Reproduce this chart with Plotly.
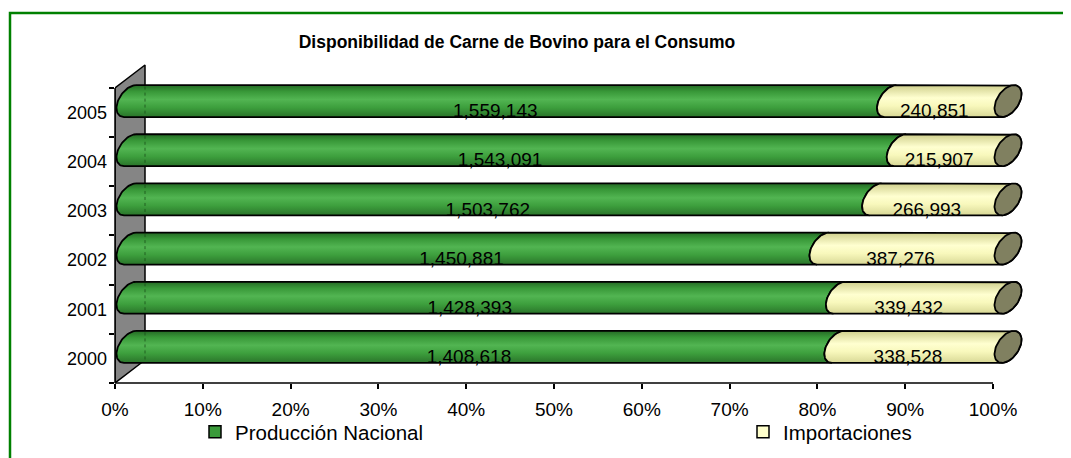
import numpy as np
import plotly.graph_objects as go

# data
years = ["2000", "2001", "2002", "2003", "2004", "2005"]
produccion = [1408618, 1428393, 1450881, 1503762, 1543091, 1559143]
importaciones = [338528, 339432, 387276, 266993, 215907, 240851]
series_names = ["Producción Nacional", "Importaciones"]
x_ticks = [0, 10, 20, 30, 40, 50, 60, 70, 80, 90, 100]
title_text = "Disponibilidad de Carne de Bovino para el Consumo"

# page / plot area in pixels (page is drawn 8px in from the window corner)
W, H = 1071, 458
OFF = 8
L, R, T, B = 115 - OFF, 1030 - OFF, 60 - OFF, 383 - OFF
PX_X = 8.78    # px per percent
PX_Y = 49.17   # px per category
x_range = [0, (R - L) / PX_X]
y_range = [-0.5, -0.5 + (B - T) / PX_Y]

# cylinder look (px)
CX, CY = 15, 11.5
BX, BY, HV = 13.5, 7.1, 14.3
WALL_DX, WALL_DY = 30, 23
th_top = np.arctan2(BY, -HV)
half_h = np.hypot(HV, BY)

FONT = "Liberation Sans, Arial, sans-serif"
green_scale = [[0, "#2a742a"], [0.3, "#3d9f3d"], [0.55, "#52b552"], [0.8, "#389838"], [1, "#256a25"]]
beige_scale = [[0, "#d8d896"], [0.35, "#f8f8bc"], [0.6, "#ffffd0"], [1, "#cfcf8c"]]
cap_color = "#808060"


def ell(p, k, th):
    x = p + (CX + BX * np.sin(th)) / PX_X
    y = k + (CY - HV * np.cos(th) + BY * np.sin(th)) / PX_Y
    return x, y


def segment(p1, p2, k, last):
    n = 40
    tx1, ty1 = ell(p1, k, th_top)
    end = th_top - np.pi if last else th_top + np.pi
    ax2, ay2 = ell(p2, k, np.linspace(th_top, end, n))
    ax1, ay1 = ell(p1, k, np.linspace(th_top + np.pi, th_top, n))
    xs = np.concatenate([[tx1], ax2, ax1])
    ys = np.concatenate([[ty1], ay2, ay1])
    return xs, ys


fig = go.Figure()

# back wall
wx = WALL_DX / PX_X
wy = WALL_DY / PX_Y
fig.add_trace(go.Scatter(
    x=[0, 0, wx, wx, 0], y=[-0.5, len(years) - 0.5, len(years) - 0.5 + wy, -0.5 + wy, -0.5],
    fill="toself", fillcolor="#858585", mode="lines",
    line=dict(color="black", width=1.5), showlegend=False, hoverinfo="skip"))

lab_x, lab_y, lab_t = [], [], []
edge_x, edge_y = [], []
for k, (a, b) in enumerate(zip(produccion, importaciones)):
    tot = a + b
    pa = a / tot * 100
    xs, ys = segment(0, pa, k, False)
    fig.add_trace(go.Scatter(
        x=xs, y=ys, fill="toself", mode="lines",
        fillgradient=dict(type="vertical", colorscale=green_scale),
        line=dict(color="black", width=1.8), showlegend=False,
        hoverinfo="skip"))
    xs, ys = segment(pa, 100, k, True)
    fig.add_trace(go.Scatter(
        x=xs, y=ys, fill="toself", mode="lines",
        fillgradient=dict(type="vertical", colorscale=beige_scale),
        line=dict(color="black", width=1.8), showlegend=False,
        hoverinfo="skip"))
    ex, ey = ell(100, k, np.linspace(0, 2 * np.pi, 80))
    fig.add_trace(go.Scatter(
        x=ex, y=ey, fill="toself", fillcolor=cap_color, mode="lines",
        line=dict(color="black", width=1.8), showlegend=False,
        hoverinfo="skip"))
    edge_x += [wx, wx, None]
    edge_y += [k + (CY + half_h - 1.5) / PX_Y, k + (CY - half_h + 1.5) / PX_Y, None]
    lab_x += [pa / 2, (pa + 100) / 2]
    lab_y += [k, k]
    lab_t += [f"{a:,}", f"{b:,}"]

# wall edge faintly seen through the bars
fig.add_trace(go.Scatter(
    x=edge_x, y=edge_y, mode="lines",
    line=dict(color="rgba(20,70,20,0.7)", width=1, dash="dot"),
    showlegend=False, hoverinfo="skip"))

fig.add_trace(go.Scatter(
    x=lab_x, y=lab_y, text=lab_t, mode="text",
    textfont=dict(family=FONT, size=19, color="black"),
    showlegend=False, hoverinfo="skip"))

# legend entries
fig.add_trace(go.Scatter(
    x=[None], y=[None], mode="markers", name=series_names[0], legend="legend",
    marker=dict(symbol="square", size=12, color="#3a9a3a", line=dict(color="black", width=1.5))))
fig.add_trace(go.Scatter(
    x=[None], y=[None], mode="markers", name=series_names[1], legend="legend2",
    marker=dict(symbol="square", size=12, color="#ffffcc", line=dict(color="black", width=1.5))))


def px_x(p):
    return (p - OFF - L) / (R - L)


def px_y(p):
    return (B - (p - OFF)) / (B - T)


shapes = [
    dict(type="rect", xref="paper", yref="paper",
         x0=px_x(10), x1=px_x(1090), y0=px_y(480), y1=px_y(13),
         line=dict(color="#008000", width=2.5), fillcolor="rgba(0,0,0,0)", layer="below"),
    dict(type="line", xref="x", yref="paper", x0=0, x1=100, y0=0, y1=0,
         line=dict(color="black", width=1.5)),
    dict(type="line", xref="paper", yref="y", x0=0, x1=0, y0=-0.5, y1=len(years) - 0.5,
         line=dict(color="black", width=1.5)),
]

fig.update_layout(
    width=W, height=H, autosize=False,
    margin=dict(l=L, r=W - R, t=T, b=H - B),
    paper_bgcolor="white", plot_bgcolor="white",
    font=dict(family=FONT, size=19, color="black"),
    title=dict(text=f"<b>{title_text}</b>", font=dict(family=FONT, size=17.5, color="black"),
               x=(517 - OFF) / W, xanchor="center", xref="container",
               y=1 - (42 - OFF) / H, yanchor="middle", yref="container"),
    xaxis=dict(range=x_range, tickvals=x_ticks, ticktext=[f"{t}%" for t in x_ticks],
               ticks="outside", ticklen=5, tickwidth=1.5, tickcolor="black",
               showgrid=False, zeroline=False, showline=False, ticklabelstandoff=4,
               tickfont=dict(size=19)),
    yaxis=dict(range=y_range, tickvals=list(range(len(years))), ticktext=years,
               ticks="", showgrid=False, zeroline=False, showline=False,
               minor=dict(tickvals=[i - 0.5 for i in range(len(years) + 1)],
                          ticks="outside", ticklen=5, tickwidth=1.5, tickcolor="black"),
               ticklabelstandoff=7, tickfont=dict(size=18)),
    legend=dict(x=px_x(195), y=px_y(432), xanchor="left", yanchor="middle",
                orientation="h", bgcolor="rgba(0,0,0,0)", font=dict(size=20.5)),
    legend2=dict(x=px_x(743), y=px_y(432), xanchor="left", yanchor="middle",
                 orientation="h", bgcolor="rgba(0,0,0,0)", font=dict(size=20.5)),
    shapes=shapes,
)

fig.write_html("out.html")
